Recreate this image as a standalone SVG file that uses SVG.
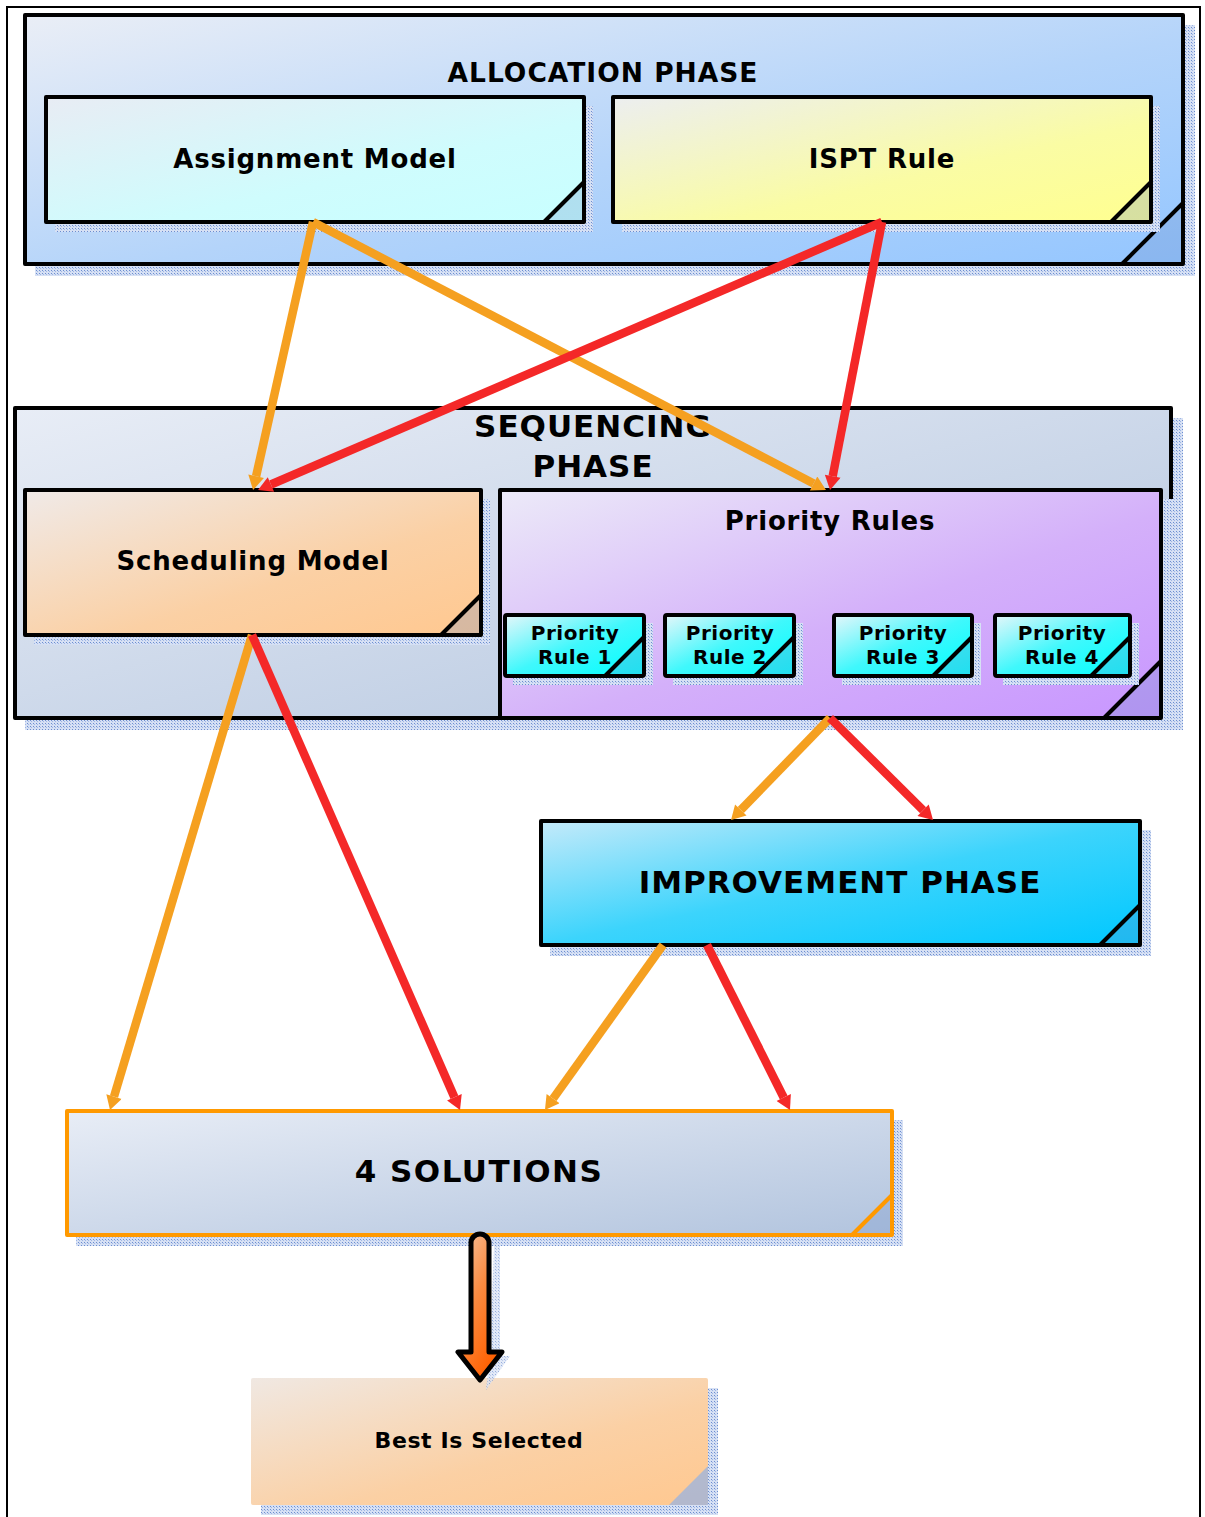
<svg xmlns="http://www.w3.org/2000/svg" width="1205" height="1517" viewBox="0 0 1205 1517">
<style>
.t{font-family:"DejaVu Sans","Liberation Sans",sans-serif;font-weight:bold;fill:#000;text-anchor:middle}
.box{stroke:#000;stroke-width:4;stroke-linejoin:round}
.fold{fill:#6f8fc8;fill-opacity:0.28}
.fl{stroke:#000;stroke-width:4;fill:none}
.sh{fill:url(#dots)}
.co{fill:none;stroke-width:8.5;stroke-linecap:butt}
</style>
<defs>
<pattern id="dots" width="3" height="3" patternUnits="userSpaceOnUse">
<rect width="3" height="3" fill="#d6e0f4"/>
<rect width="1" height="1" fill="#6c8ed0"/>
<rect x="1" y="1" width="1" height="1" fill="#9fb6e4"/>
</pattern>
<linearGradient id="gAlloc" x1="0" y1="0" x2="1" y2="1"><stop offset="0" stop-color="#eaeef6"/><stop offset="0.55" stop-color="#b4d4fa"/><stop offset="1" stop-color="#94c6ff"/></linearGradient>
<linearGradient id="gAssign" x1="0" y1="0" x2="1" y2="1"><stop offset="0" stop-color="#e8ecf4"/><stop offset="0.6" stop-color="#cffcfd"/><stop offset="1" stop-color="#c8ffff"/></linearGradient>
<linearGradient id="gIspt" x1="0" y1="0" x2="1" y2="1"><stop offset="0" stop-color="#eceef0"/><stop offset="0.6" stop-color="#fafca4"/><stop offset="1" stop-color="#ffff90"/></linearGradient>
<linearGradient id="gSeq" x1="0" y1="0" x2="1" y2="1"><stop offset="0" stop-color="#e8edf6"/><stop offset="1" stop-color="#b2c4de"/></linearGradient>
<linearGradient id="gSched" x1="0" y1="0" x2="1" y2="1"><stop offset="0" stop-color="#f0eae8"/><stop offset="0.6" stop-color="#fbd0a4"/><stop offset="1" stop-color="#ffc890"/></linearGradient>
<linearGradient id="gPR" x1="0" y1="0" x2="1" y2="1"><stop offset="0" stop-color="#eceaf8"/><stop offset="0.55" stop-color="#d4b0fa"/><stop offset="1" stop-color="#c896ff"/></linearGradient>
<linearGradient id="gPRs" x1="0" y1="0" x2="1" y2="1"><stop offset="0" stop-color="#e6f6fa"/><stop offset="0.5" stop-color="#40f8fc"/><stop offset="1" stop-color="#00ffff"/></linearGradient>
<linearGradient id="gImp" x1="0" y1="0" x2="1" y2="1"><stop offset="0" stop-color="#c4eafa"/><stop offset="0.5" stop-color="#3cd4fc"/><stop offset="1" stop-color="#00c8ff"/></linearGradient>
<linearGradient id="gSol" x1="0" y1="0" x2="1" y2="1"><stop offset="0" stop-color="#e8edf6"/><stop offset="1" stop-color="#b2c4de"/></linearGradient>
<linearGradient id="gBest" x1="0" y1="0" x2="1" y2="1"><stop offset="0" stop-color="#f0e8e2"/><stop offset="0.6" stop-color="#fbd0a4"/><stop offset="1" stop-color="#ffc890"/></linearGradient>
<linearGradient id="gArrow" x1="0" y1="0" x2="0.6" y2="1"><stop offset="0" stop-color="#f4c8a8"/><stop offset="0.5" stop-color="#fa8a40"/><stop offset="1" stop-color="#ff6000"/></linearGradient>
<marker id="mO" markerUnits="userSpaceOnUse" markerWidth="16" markerHeight="16" viewBox="0 0 14 16" refX="0" refY="8" orient="auto"><path d="M0,0 L14,8 L0,16 Z" fill="#f5a020"/></marker>
<marker id="mR" markerUnits="userSpaceOnUse" markerWidth="16" markerHeight="16" viewBox="0 0 14 16" refX="0" refY="8" orient="auto"><path d="M0,0 L14,8 L0,16 Z" fill="#f42828"/></marker>
</defs>

<rect x="7" y="7" width="1193" height="1530" fill="#fff" stroke="#000" stroke-width="2"/>

<g id="allocation-phase">
<rect class="sh" x="35" y="25" width="1160" height="251"/>
<rect class="box" x="25" y="15" width="1158" height="249" fill="url(#gAlloc)"/>
<polygon class="fold" points="1181,206 1181,262 1125,262"/>
<line class="fl" x1="1183" y1="203" x2="1122" y2="264"/>
<text class="t" x="603" y="82" font-size="26.5" letter-spacing="1">ALLOCATION PHASE</text>
</g>

<g id="assignment-model">
<rect class="sh" x="55" y="106" width="538" height="126"/>
<rect class="box" x="46" y="97" width="538" height="125" fill="url(#gAssign)"/>
<polygon class="fold" points="582,184 582,220 546,220"/>
<line class="fl" x1="584" y1="182" x2="544" y2="222"/>
<text class="t" x="315" y="168" font-size="26" letter-spacing="0.8">Assignment Model</text>
</g>

<g id="ispt-rule">
<rect class="sh" x="622" y="106" width="538" height="126"/>
<rect class="box" x="613" y="97" width="538" height="125" fill="url(#gIspt)"/>
<polygon class="fold" points="1149,184 1149,220 1113,220"/>
<line class="fl" x1="1151" y1="182" x2="1111" y2="222"/>
<text class="t" x="882" y="168" font-size="26" letter-spacing="0.8">ISPT Rule</text>
</g>

<g id="sequencing-phase">
<rect class="sh" x="25" y="418" width="1158" height="312"/>
<rect class="box" x="15" y="408" width="1156" height="310" fill="url(#gSeq)"/>
<text class="t" x="593" y="437" font-size="31" letter-spacing="1">SEQUENCING</text>
<text class="t" x="593" y="477" font-size="31" letter-spacing="1">PHASE</text>
</g>

<g id="scheduling-model">
<rect class="sh" x="34" y="499" width="456" height="146"/>
<rect class="box" x="25" y="490" width="456" height="145" fill="url(#gSched)"/>
<polygon class="fold" points="479,597 479,633 443,633"/>
<line class="fl" x1="481" y1="595" x2="441" y2="635"/>
<text class="t" x="253" y="570" font-size="26" letter-spacing="0.8">Scheduling Model</text>
</g>

<g id="priority-rules">
<rect class="sh" x="509" y="499" width="670" height="231"/>
<rect class="box" x="500" y="490" width="661" height="228" fill="url(#gPR)"/>
<polygon class="fold" points="1159,664 1159,716 1107,716"/>
<line class="fl" x1="1161" y1="661" x2="1104" y2="718"/>
<text class="t" x="830" y="530" font-size="26" letter-spacing="0.8">Priority Rules</text>
</g>

<g id="priority-rule-1">
<rect class="sh" x="513" y="623" width="140" height="62"/>
<rect class="box" x="505" y="615" width="139" height="61" fill="url(#gPRs)" rx="2"/>
<polygon class="fold" points="642,639 642,674 607,674"/>
<line class="fl" x1="644" y1="637" x2="605" y2="676"/>
<text class="t" x="575" y="640" font-size="20" letter-spacing="0.5">Priority</text>
<text class="t" x="575" y="664" font-size="20" letter-spacing="0.5">Rule 1</text>
</g>

<g id="priority-rule-2">
<rect class="sh" x="673" y="623" width="130" height="62"/>
<rect class="box" x="665" y="615" width="129" height="61" fill="url(#gPRs)" rx="2"/>
<polygon class="fold" points="792,639 792,674 757,674"/>
<line class="fl" x1="794" y1="637" x2="755" y2="676"/>
<text class="t" x="730" y="640" font-size="20" letter-spacing="0.5">Priority</text>
<text class="t" x="730" y="664" font-size="20" letter-spacing="0.5">Rule 2</text>
</g>

<g id="priority-rule-3">
<rect class="sh" x="842" y="623" width="139" height="62"/>
<rect class="box" x="834" y="615" width="138" height="61" fill="url(#gPRs)" rx="2"/>
<polygon class="fold" points="970,639 970,674 935,674"/>
<line class="fl" x1="972" y1="637" x2="933" y2="676"/>
<text class="t" x="903" y="640" font-size="20" letter-spacing="0.5">Priority</text>
<text class="t" x="903" y="664" font-size="20" letter-spacing="0.5">Rule 3</text>
</g>

<g id="priority-rule-4">
<rect class="sh" x="1003" y="623" width="136" height="62"/>
<rect class="box" x="995" y="615" width="135" height="61" fill="url(#gPRs)" rx="2"/>
<polygon class="fold" points="1128,639 1128,674 1093,674"/>
<line class="fl" x1="1130" y1="637" x2="1091" y2="676"/>
<text class="t" x="1062" y="640" font-size="20" letter-spacing="0.5">Priority</text>
<text class="t" x="1062" y="664" font-size="20" letter-spacing="0.5">Rule 4</text>
</g>

<g id="improvement-phase">
<rect class="sh" x="550" y="830" width="601" height="126"/>
<rect class="box" x="541" y="821" width="599" height="124" fill="url(#gImp)"/>
<polygon class="fold" points="1138,907 1138,943 1102,943"/>
<line class="fl" x1="1140" y1="905" x2="1100" y2="945"/>
<text class="t" x="840" y="893" font-size="31" letter-spacing="1">IMPROVEMENT PHASE</text>
</g>

<g id="four-solutions">
<rect class="sh" x="76" y="1120" width="827" height="126"/>
<rect x="67" y="1111" width="825" height="124" fill="url(#gSol)" stroke="#ff9900" stroke-width="4" stroke-linejoin="round"/>
<polygon class="fold" points="890,1197 890,1233 854,1233"/>
<line x1="892" y1="1195" x2="852" y2="1235" stroke="#ff9900" stroke-width="4"/>
<text class="t" x="479" y="1182" font-size="31" letter-spacing="1.5">4 SOLUTIONS</text>
</g>

<g id="best-is-selected">
<rect class="sh" x="261" y="1388" width="457" height="127"/>
<rect x="251" y="1378" width="457" height="127" fill="url(#gBest)" rx="2"/>
<polygon points="708,1466 708,1505 669,1505" fill="#9fb4dc" fill-opacity="0.8"/>
<text class="t" x="479" y="1448" font-size="22" letter-spacing="0.6">Best Is Selected</text>
</g>

<g id="connectors">
<path d="M494,1246 L500,1246 L500,1356 L510,1356 L486,1390 L490,1356 Z" fill="url(#dots)" opacity="0.7"/>
<path d="M471,1243 A9,9 0 0 1 489,1243 L489,1352 L502,1352 L480,1380 L458,1352 L471,1352 Z" fill="url(#gArrow)" stroke="#000" stroke-width="5" stroke-linejoin="round"/>

<g>
<line class="co" x1="313" y1="222" x2="256.1" y2="476.3" stroke="#f5a020" marker-end="url(#mO)"/>
<line class="co" x1="313" y1="222" x2="813.6" y2="483.5" stroke="#f5a020" marker-end="url(#mO)"/>
<line class="co" x1="252" y1="635" x2="114.0" y2="1096.6" stroke="#f5a020" marker-end="url(#mO)"/>
<line class="co" x1="830" y1="718" x2="740.8" y2="810.0" stroke="#f5a020" marker-end="url(#mO)"/>
<line class="co" x1="663" y1="945" x2="553.1" y2="1098.6" stroke="#f5a020" marker-end="url(#mO)"/>
</g>
<g>
<line class="co" x1="882" y1="222" x2="270.9" y2="484.5" stroke="#f42828" marker-end="url(#mR)"/>
<line class="co" x1="882" y1="222" x2="832.7" y2="476.3" stroke="#f42828" marker-end="url(#mR)"/>
<line class="co" x1="252" y1="635" x2="454.4" y2="1097.2" stroke="#f42828" marker-end="url(#mR)"/>
<line class="co" x1="830" y1="718" x2="923.1" y2="810.2" stroke="#f42828" marker-end="url(#mR)"/>
<line class="co" x1="707" y1="945" x2="783.7" y2="1097.5" stroke="#f42828" marker-end="url(#mR)"/>
</g>
</g>
</svg>
